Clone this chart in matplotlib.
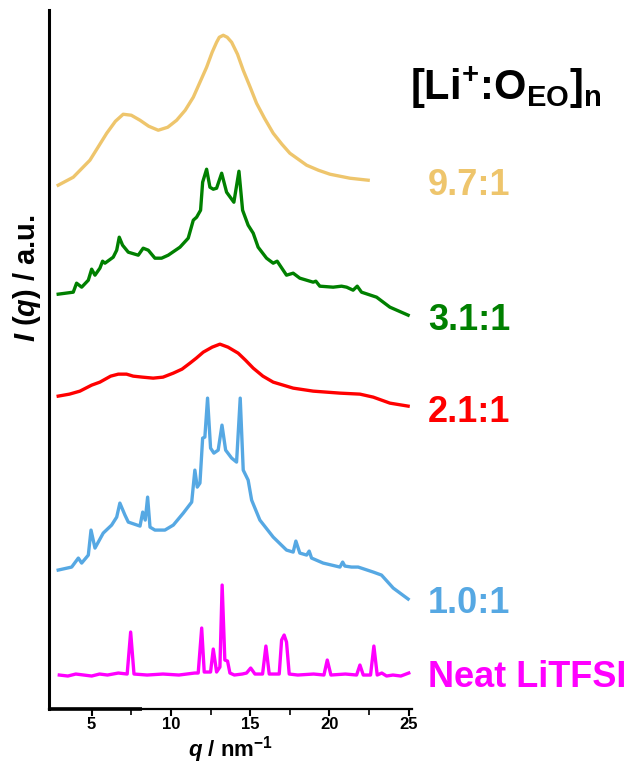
import numpy as np
import matplotlib.pyplot as plt

plt.rcParams['font.family'] = ['Liberation Sans', 'DejaVu Sans']
plt.rcParams['font.weight'] = 'bold'
plt.rcParams['mathtext.fontset'] = 'custom'
plt.rcParams['mathtext.rm'] = 'Liberation Sans:bold'
plt.rcParams['mathtext.bf'] = 'Liberation Sans:bold'
plt.rcParams['mathtext.it'] = 'Liberation Sans:italic:bold'

# neat LiTFSI
q_neat = [2.96, 3.5, 4.0, 4.5, 5.0, 5.5, 6.0, 6.68, 7.24, 7.46, 7.67, 8.5, 9.5,
          10.5, 11.5, 11.72, 11.94, 12.10, 12.50, 12.67, 12.88, 13.09, 13.23,
          13.40, 13.57, 13.72, 14.0, 14.5, 14.77, 15.03, 15.30, 15.78, 15.99,
          16.20, 16.83, 16.98, 17.14, 17.29, 17.46, 18.0, 19.0, 19.65, 19.86,
          20.09, 21.0, 21.71, 21.92, 22.13, 22.59, 22.80, 23.01, 23.3, 23.6,
          24.0, 24.5, 25.0]
I_neat = [34, 33, 35, 34, 33, 35, 34, 36, 35, 77, 35, 34, 35,
          34, 36, 36, 81, 37, 37, 60, 37, 42, 124,
          49, 48, 36, 34, 35, 36, 41, 35, 35, 63,
          35, 35, 69, 74, 67, 35, 34, 35, 34, 49,
          34, 35, 34, 44, 34, 34, 63, 34, 36, 33,
          34, 33, 36]

# 1.0:1
q_10 = [2.89, 3.74, 4.16, 4.37, 4.79, 4.96, 5.21, 5.73, 6.26, 6.58, 6.78, 7.10,
        7.31, 8.05, 8.22, 8.38, 8.53, 8.68, 8.99, 9.62, 10.15, 10.78, 11.31,
        11.51, 11.66, 11.83, 12.00, 12.14, 12.31, 12.50, 12.71, 12.98, 13.22,
        13.45, 13.83, 14.14, 14.37, 14.56, 14.87, 15.09, 15.61, 16.45, 17.29,
        17.71, 17.88, 18.13, 18.56, 18.72, 18.87, 19.60, 20.66, 20.83, 20.97,
        21.39, 21.81, 22.76, 23.28, 24.02, 24.96]
I_10 = [39, 42, 51, 46, 54, 79, 61, 76, 84, 92, 106, 94,
        87, 83, 97, 89, 112, 82, 79, 79, 84, 96, 107,
        139, 122, 126, 171, 172, 211, 161, 156, 159, 184,
        159, 151, 147, 211, 139, 129, 109, 89, 72, 59,
        57, 68, 56, 54, 58, 51, 46, 42, 47, 43,
        42, 42, 37, 34, 21, 10]

# 2.1:1
q_21 = [2.89, 3.6, 4.26, 5.0, 5.52, 6.2, 6.68, 7.2, 7.62, 8.2, 8.88, 9.5, 10.15,
        10.7, 11.20, 11.6, 12.04, 12.6, 13.09, 13.6, 14.24, 14.7, 15.19, 15.8,
        16.45, 17.71, 18.97, 20.66, 21.92, 22.76, 23.81, 24.96]
I_21 = [13, 15, 18, 24, 27, 33, 35, 35, 33, 32, 31, 32, 36,
        40, 46, 51, 57, 62, 65, 62, 56, 49, 41, 33,
        27, 21, 18, 16, 15, 12, 6, 3]

# 3.1:1
q_31 = [2.89, 3.84, 4.05, 4.37, 4.79, 5.00, 5.21, 5.52, 5.69, 5.84, 6.36, 6.58,
        6.74, 6.95, 7.31, 7.94, 8.25, 8.57, 8.99, 9.41, 9.83, 10.57, 11.09,
        11.41, 11.62, 11.87, 12.00, 12.25, 12.46, 12.67, 12.88, 13.20, 13.51,
        13.97, 14.29, 14.52, 14.87, 15.19, 15.50, 16.03, 16.45, 16.70, 17.29,
        17.71, 18.13, 18.97, 19.14, 19.39, 20.23, 20.76, 21.08, 21.49, 21.75,
        22.02, 22.97, 23.81, 24.96]
I_31 = [25, 27, 36, 32, 39, 50, 44, 51, 58, 56, 62, 69,
        82, 74, 67, 64, 71, 69, 61, 61, 64, 72, 81,
        99, 102, 109, 137, 150, 132, 130, 131, 146, 127,
        117, 148, 109, 94, 86, 72, 61, 56, 58, 44,
        46, 41, 37, 38, 33, 32, 33, 32, 29, 33,
        27, 22, 12, 4]

# 9.7:1
q_97 = [2.89, 3.84, 4.89, 5.95, 6.5, 6.99, 7.5, 8.05, 8.6, 9.20, 9.8, 10.36,
        10.9, 11.41, 12.25, 12.6, 12.88, 13.05, 13.30, 13.55, 13.83, 14.2,
        14.56, 15.0, 15.40, 15.9, 16.45, 17.0, 17.50, 18.56, 19.3, 20.03,
        21.29, 22.44]
I_97 = [14, 22, 39, 66, 78, 85, 84, 79, 73, 69, 72, 79,
        89, 102, 132, 147, 157, 162, 164, 162, 157, 145,
        129, 112, 96, 81, 66, 55, 46, 34, 29, 25,
        21, 19]

curves = [(q_neat, I_neat), (q_10, I_10), (q_21, I_21), (q_31, I_31), (q_97, I_97)]
offsets = [0, 100, 300, 390, 510]
colors = ['#FF00FF', '#56A8E3', '#FF0000', '#008000', '#EEC56C']
names = ['Neat LiTFSI', '1.0:1', '2.1:1', '3.1:1', '9.7:1']
label_y = [22, 96, 287, 379, 514]

fig = plt.figure(figsize=(6.29, 7.67), dpi=100)
ax = fig.add_axes([0.0779, 0.0756, 0.577, 0.911])

for (q, I), off, c in zip(curves, offsets, colors):
    ax.plot(q, np.array(I) + off, color=c, lw=2.4, solid_joinstyle='round')

for name, y, c in zip(names, label_y, colors):
    ax.text(26.2, y, name, color=c, fontsize=26, fontweight='bold',
            va='baseline', ha='left', clip_on=False)

ax.text(25.07, 609, r'[Li$^{+}$:O$_{\mathrm{EO}}$]$_{\mathrm{n}}$', color='black',
        fontsize=30, fontweight='bold', va='baseline', ha='left', clip_on=False)

ax.set_xlim(2.31, 25.2)
ax.set_ylim(0, 699)
ax.set_xticks([5, 10, 15, 20, 25])
ax.set_xticks([7.5, 12.5, 17.5, 22.5], minor=True)
ax.set_yticks([])
ax.tick_params(axis='x', which='major', direction='out', length=5, width=1.5,
               labelsize=12, pad=1)
ax.tick_params(axis='x', which='minor', direction='out', length=4, width=1.2)
for lab in ax.get_xticklabels():
    lab.set_fontweight('bold')

ax.spines['top'].set_visible(False)
ax.spines['right'].set_visible(False)
ax.spines['left'].set_linewidth(2.2)
ax.spines['bottom'].set_linewidth(1.6)
ax.plot([2.31, 8.2], [0, 0], color='black', lw=2.6, clip_on=False,
        solid_capstyle='butt')

ax.set_xlabel(r'$\it{q}$ / nm$^{-1}$', fontsize=16, fontweight='bold')
ax.xaxis.label.set_va('bottom')
ax.xaxis.set_label_coords(0.5, -0.08)
fig.text(0.043, 1 - 278 / 767, r'$\it{I}$ ($\it{q}$) / a.u.', rotation=90,
         fontsize=21, fontweight='bold', ha='center', va='center')

fig.savefig('out.png', dpi=100)
